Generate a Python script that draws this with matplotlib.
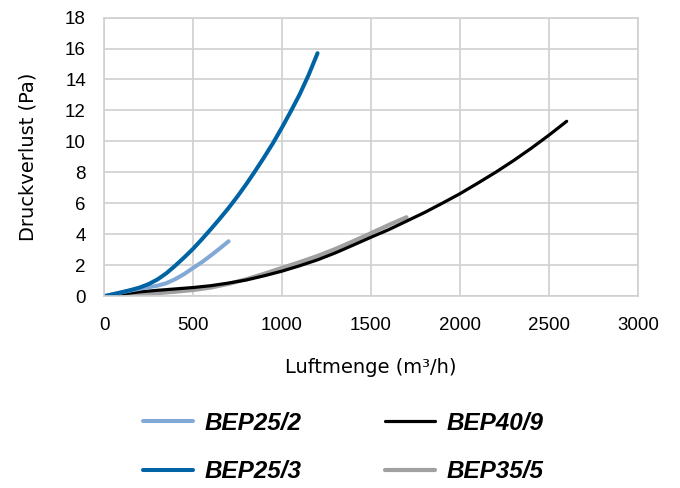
import matplotlib
matplotlib.use('Agg')
import matplotlib.pyplot as plt

# BEP25/2
x_25_2 = [0, 50, 100, 150, 200, 250, 300, 350, 400, 450, 500, 550, 600, 650, 700]
y_25_2 = [0, 0.12, 0.25, 0.37, 0.48, 0.58, 0.68, 0.84, 1.1, 1.43, 1.82, 2.2, 2.63, 3.08, 3.55]

# BEP25/3
x_25_3 = [0, 50, 100, 150, 200, 250, 300, 350, 400, 450, 500, 550, 600, 650, 700,
          750, 800, 850, 900, 950, 1000, 1050, 1100, 1150, 1200]
y_25_3 = [0, 0.13, 0.26, 0.4, 0.56, 0.78, 1.08, 1.48, 1.97, 2.5, 3.06, 3.68, 4.33, 5.0, 5.7,
          6.45, 7.25, 8.1, 8.98, 9.9, 10.9, 11.95, 13.05, 14.3, 15.7]

# BEP40/9
x_40_9 = [0, 100, 200, 300, 400, 500, 600, 700, 800, 900, 1000, 1100, 1200, 1300,
          1400, 1500, 1600, 1700, 1800, 1900, 2000, 2100, 2200, 2300, 2400, 2500, 2600]
y_40_9 = [0, 0.15, 0.28, 0.38, 0.47, 0.56, 0.68, 0.85, 1.05, 1.32, 1.62, 1.97, 2.35, 2.8,
          3.3, 3.81, 4.3, 4.85, 5.4, 6.0, 6.62, 7.3, 8.0, 8.75, 9.55, 10.4, 11.3]

# BEP35/5
x_35_5 = [0, 100, 200, 300, 400, 500, 600, 700, 800, 900, 1000, 1100, 1200, 1300,
          1400, 1500, 1600, 1700]
y_35_5 = [0, 0.05, 0.12, 0.2, 0.29, 0.4, 0.56, 0.8, 1.1, 1.45, 1.83, 2.2, 2.6, 3.05,
          3.55, 4.07, 4.6, 5.1]

fig = plt.figure(figsize=(6.8, 4.88), dpi=100)
ax = fig.add_axes([0.153, 0.393, 0.785, 0.571])

l35, = ax.plot(x_35_5, y_35_5, color='#a0a0a0', lw=3.0, solid_capstyle='round',
               solid_joinstyle='round', label='BEP35/5')
l40, = ax.plot(x_40_9, y_40_9, color='black', lw=2.3, solid_capstyle='round',
               solid_joinstyle='round', label='BEP40/9')
l252, = ax.plot(x_25_2, y_25_2, color='#82a8d6', lw=2.9, solid_capstyle='round',
                solid_joinstyle='round', label='BEP25/2')
l253, = ax.plot(x_25_3, y_25_3, color='#0063a3', lw=2.9, solid_capstyle='round',
                solid_joinstyle='round', label='BEP25/3')

ax.set_xlim(0, 3000)
ax.set_ylim(0, 18)
ax.set_xticks(range(0, 3001, 500))
ax.set_yticks(range(0, 19, 2))
ax.grid(True, color='#d0d0d0', lw=1.2)
ax.set_axisbelow(True)
for s in ax.spines.values():
    s.set_color('#d0d0d0')
    s.set_linewidth(1.2)
ax.tick_params(length=0, labelsize=13.5)
ax.tick_params(axis='x', pad=15)
ax.tick_params(axis='y', pad=13)
for lab in ax.get_xticklabels() + ax.get_yticklabels():
    lab.set_family('Liberation Sans')

ax.set_xlabel('Luftmenge (m³/h)', fontsize=14, family='DejaVu Sans', labelpad=17)
ax.set_ylabel('Druckverlust (Pa)', fontsize=14, family='DejaVu Sans', labelpad=20)

fig.legend(handles=[l252, l253, l40, l35], ncol=2, loc='upper left',
           bbox_to_anchor=(0.21, 0.156), frameon=False,
           prop={'family': 'Liberation Sans', 'weight': 'bold', 'style': 'italic', 'size': 17.5},
           handlelength=2.06, handletextpad=0.5, columnspacing=3.4, labelspacing=1.05,
           borderaxespad=0, borderpad=0)

fig.savefig('out.png', dpi=100)
